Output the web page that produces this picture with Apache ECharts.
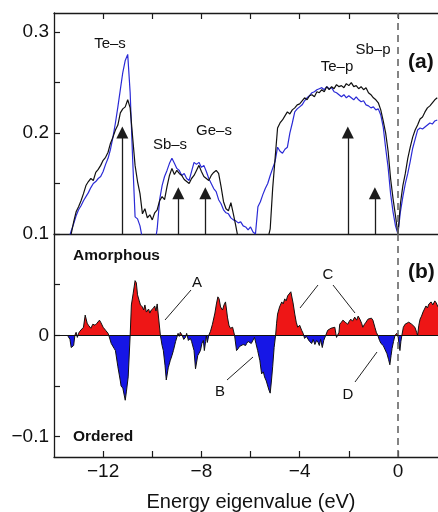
<!DOCTYPE html>
<html>
<head>
<meta charset="utf-8">
<script src="https://cdn.jsdelivr.net/npm/echarts@6/dist/echarts.min.js"></script>
<style>
  html, body { margin: 0; padding: 0; background: #fff; }
  #chart { width: 438px; height: 512px; }
</style>
</head>
<body>
<div id="chart"></div>
<script>
// energy grid of panel (a), eV
var energy = [
  -13.4,-13.3,-13.2,-13.1,-13.0,-12.9,-12.8,-12.7,-12.6,-12.5,
  -12.4,-12.3,-12.2,-12.1,-12.0,-11.9,-11.8,-11.7,-11.6,-11.5,
  -11.4,-11.3,-11.2,-11.1,-11.0,-10.9,-10.8,-10.7,-10.6,-10.5,
  -10.4,-10.3,-10.2,-10.1,-10.0,-9.9,-9.8,-9.7,-9.6,-9.5,
  -9.4,-9.3,-9.2,-9.1,-9.0,-8.9,-8.8,-8.7,-8.6,-8.5,
  -8.4,-8.3,-8.2,-8.1,-8.0,-7.9,-7.8,-7.7,-7.6,-7.5,
  -7.4,-7.3,-7.2,-7.1,-7.0,-6.9,-6.8,-6.7,-6.6,-6.5,
  -6.4,-6.3,-6.2,-6.1,-6.0,-5.9,-5.8,-5.7,-5.6,-5.5,
  -5.4,-5.3,-5.2,-5.1,-5.0,-4.9,-4.8,-4.7,-4.6,-4.5,
  -4.4,-4.3,-4.2,-4.1,-4.0,-3.9,-3.8,-3.7,-3.6,-3.5,
  -3.4,-3.3,-3.2,-3.1,-3.0,-2.9,-2.8,-2.7,-2.6,-2.5,
  -2.4,-2.3,-2.2,-2.1,-2.0,-1.9,-1.8,-1.7,-1.6,-1.5,
  -1.4,-1.3,-1.2,-1.1,-1.0,-0.9,-0.8,-0.7,-0.6,-0.5,
  -0.4,-0.3,-0.2,-0.1,0.0,0.1,0.2,0.3,0.4,0.5,
  0.6,0.7,0.8,0.9,1.0,1.1,1.2,1.3,1.4,1.5,
  1.6
];
// black curve
var dosBlack = [
  0.090,0.100,0.112,0.122,0.127,0.133,0.140,0.148,0.152,0.155,
  0.153,0.161,0.164,0.168,0.173,0.176,0.181,0.190,0.196,0.203,
  0.208,0.220,0.224,0.226,0.233,0.225,0.196,0.168,0.152,0.140,
  0.120,0.125,0.116,0.119,0.114,0.121,0.124,0.133,0.137,0.134,
  0.147,0.158,0.165,0.159,0.163,0.160,0.158,0.154,0.152,0.150,
  0.155,0.158,0.163,0.168,0.162,0.157,0.155,0.153,0.158,0.161,
  0.163,0.160,0.147,0.132,0.125,0.123,0.131,0.120,0.108,0.095,
  0.090,0.090,0.090,0.090,0.090,0.090,0.090,0.090,0.090,0.090,
  0.090,0.095,0.105,0.145,0.175,0.205,0.210,0.213,0.217,0.221,
  0.219,0.223,0.225,0.228,0.229,0.232,0.235,0.233,0.237,0.238,
  0.236,0.241,0.240,0.243,0.241,0.246,0.243,0.246,0.244,0.248,
  0.246,0.247,0.245,0.249,0.247,0.250,0.246,0.247,0.244,0.246,
  0.243,0.245,0.240,0.238,0.235,0.233,0.230,0.223,0.212,0.200,
  0.182,0.155,0.135,0.118,0.100,0.130,0.148,0.160,0.175,0.186,
  0.196,0.203,0.208,0.214,0.216,0.221,0.225,0.227,0.230,0.233,
  0.235
];
// blue curve
var dosBlue = [
  0.095,0.103,0.110,0.118,0.124,0.128,0.133,0.137,0.141,0.146,
  0.150,0.152,0.155,0.157,0.162,0.169,0.175,0.184,0.196,0.210,
  0.226,0.243,0.260,0.272,0.278,0.240,0.175,0.117,0.115,0.108,
  0.095,0.090,0.090,0.090,0.090,0.090,0.105,0.134,0.148,0.157,
  0.163,0.170,0.175,0.170,0.165,0.163,0.158,0.160,0.155,0.153,
  0.162,0.171,0.169,0.171,0.166,0.168,0.162,0.155,0.150,0.145,
  0.142,0.134,0.130,0.124,0.121,0.120,0.116,0.114,0.113,0.111,
  0.112,0.108,0.107,0.104,0.107,0.102,0.100,0.127,0.132,0.139,
  0.145,0.150,0.158,0.165,0.172,0.186,0.182,0.180,0.184,0.186,
  0.200,0.210,0.221,0.224,0.226,0.228,0.232,0.235,0.237,0.240,
  0.241,0.243,0.244,0.245,0.243,0.246,0.244,0.245,0.241,0.240,
  0.238,0.236,0.238,0.235,0.237,0.235,0.233,0.236,0.233,0.231,
  0.232,0.228,0.227,0.225,0.226,0.223,0.224,0.218,0.206,0.185,
  0.166,0.140,0.122,0.108,0.100,0.122,0.137,0.150,0.160,0.172,
  0.185,0.194,0.203,0.205,0.204,0.206,0.208,0.210,0.209,0.212,
  0.213
];

// arrows in panel (a)
var arrowEnergy = [-11.22, -8.94, -7.84, -2.04, -0.94];
var arrowHeight = [0.2005, 0.1405, 0.1405, 0.2005, 0.1405];

// panel (b): amorphous minus ordered
var diffEnergy = [
  -13.45,-13.35,-13.3,-13.2,-13.15,-13.1,-13.05,-13.0,-12.95,-12.9,
  -12.8,-12.73,-12.65,-12.6,-12.5,-12.42,-12.33,-12.25,-12.15,-12.1,
  -12.0,-11.9,-11.8,-11.77,-11.67,-11.55,-11.5,-11.4,-11.3,-11.27,
  -11.2,-11.1,-11.05,-10.98,-10.9,-10.85,-10.78,-10.7,-10.65,-10.6,
  -10.53,-10.48,-10.4,-10.35,-10.3,-10.24,-10.15,-10.1,-10.04,-9.95,
  -9.9,-9.85,-9.8,-9.67,-9.6,-9.55,-9.48,-9.43,-9.35,-9.27,
  -9.2,-9.14,-9.05,-9.0,-8.95,-8.9,-8.86,-8.78,-8.72,-8.65,
  -8.6,-8.53,-8.45,-8.4,-8.3,-8.24,-8.15,-8.04,-7.98,-7.92,
  -7.88,-7.83,-7.8,-7.76,-7.7,-7.63,-7.55,-7.45,-7.39,-7.33,
  -7.28,-7.22,-7.14,-7.08,-7.02,-6.98,-6.94,-6.88,-6.82,-6.73,
  -6.65,-6.57,-6.5,-6.45,-6.37,-6.3,-6.2,-6.16,-6.1,-6.04,
  -5.97,-5.9,-5.84,-5.78,-5.71,-5.62,-5.55,-5.48,-5.43,-5.36,
  -5.3,-5.25,-5.2,-5.15,-5.1,-5.04,-4.98,-4.94,-4.9,-4.82,
  -4.73,-4.67,-4.61,-4.55,-4.49,-4.42,-4.36,-4.33,-4.27,-4.2,
  -4.14,-4.08,-4.0,-3.92,-3.86,-3.8,-3.73,-3.67,-3.6,-3.51,
  -3.45,-3.38,-3.31,-3.25,-3.2,-3.15,-3.08,-3.02,-2.94,-2.86,
  -2.8,-2.73,-2.65,-2.57,-2.53,-2.5,-2.45,-2.4,-2.37,-2.3,
  -2.24,-2.15,-2.04,-1.98,-1.92,-1.85,-1.76,-1.68,-1.62,-1.55,
  -1.48,-1.43,-1.36,-1.3,-1.22,-1.14,-1.08,-1.02,-0.94,-0.88,
  -0.82,-0.75,-0.69,-0.6,-0.53,-0.45,-0.38,-0.33,-0.28,-0.24,
  -0.18,-0.12,-0.05,0.0,0.04,0.08,0.12,0.16,0.22,0.29,
  0.36,0.44,0.49,0.56,0.62,0.69,0.76,0.8,0.85,0.9,
  0.96,1.02,1.08,1.14,1.2,1.26,1.35,1.42,1.5,1.56,
  1.63
];
var diffValue = [
  0,-0.004,-0.012,-0.010,0,0.003,-0.002,0.002,0.004,0.005,
  0.008,0.020,0.012,0.010,0.007,0.011,0.010,0.012,0.015,0.013,
  0.008,0.005,0.002,0,-0.008,-0.013,-0.015,-0.031,-0.045,-0.050,
  -0.052,-0.064,-0.055,-0.041,0,0.030,0.041,0.054,0.052,0.040,
  0.034,0.030,0.028,0.025,0.030,0.023,0.026,0.022,0.025,0.027,
  0.029,0.024,0.031,0,-0.010,-0.015,-0.030,-0.044,-0.032,-0.025,
  -0.020,-0.015,-0.006,-0.002,0.002,-0.001,0.003,0,-0.004,-0.002,
  0.002,-0.005,-0.003,-0.006,-0.015,-0.033,-0.020,-0.015,-0.008,-0.005,
  -0.015,-0.006,0,-0.007,0,0.004,0.011,0.022,0.031,0.038,
  0.036,0.028,0.025,0.030,0.033,0.026,0.018,0.010,0.007,0.008,
  0,-0.015,-0.013,-0.011,-0.011,-0.009,-0.010,-0.008,-0.006,-0.005,
  -0.008,-0.007,-0.002,-0.008,-0.015,-0.025,-0.038,-0.036,-0.041,-0.045,
  -0.050,-0.054,-0.057,-0.045,-0.031,-0.012,0,0.012,0.021,0.028,
  0.033,0.031,0.036,0.034,0.039,0.038,0.043,0.044,0.032,0.021,
  0.013,0.008,0.010,0.005,0.002,-0.003,-0.001,0,-0.006,-0.008,
  -0.004,-0.009,-0.005,-0.007,-0.010,-0.004,-0.012,-0.005,0,0.005,
  0.004,0.007,0.006,0.008,0.002,-0.002,-0.003,0.003,0.011,0.013,
  0.015,0.013,0.011,0.014,0.016,0.014,0.018,0.015,0.019,0.016,
  0.012,0.008,0.011,0.013,0.016,0.016,0.017,0.015,0.008,0.003,
  0,-0.005,-0.008,-0.010,-0.011,-0.018,-0.024,-0.029,-0.020,-0.013,
  -0.006,0,0.002,0,-0.008,-0.015,-0.006,0,0.008,0.011,
  0.012,0.013,0.013,0.011,0.010,0.008,0.003,0,0.010,0.016,
  0.019,0.023,0.026,0.029,0.027,0.031,0.033,0.030,0.034,0.032,
  0.028
];

var xTicks = [-12, -10, -8, -6, -4, -2, 0];
var xLabels = [-12, -8, -4, 0];
var yTicksA = [0.1, 0.15, 0.2, 0.25, 0.3];
var yLabelsA = [0.1, 0.2, 0.3];
var yTicksB = [-0.1, -0.05, 0, 0.05];
var yLabelsB = [-0.1, 0];

var FONT = '"Liberation Sans", Arial, Helvetica, sans-serif';
var AXIS_COLOR = '#1a1a1a';

function fmt(v) {
  return (v < 0 ? '\u2212' : '') + Math.abs(v);
}

function pairs(xs, ys) {
  return xs.map(function (x, i) { return [x, ys[i]]; });
}

var arrowLines = arrowEnergy.map(function (e, i) {
  return [
    { coord: [e, 0.1], symbol: 'none' },
    { coord: [e, arrowHeight[i]], symbol: 'triangle', symbolSize: 12 }
  ];
});

var dashedZero = {
  xAxis: 0,
  lineStyle: { color: '#666', type: [7, 5], width: 1.6 }
};

var axisLineStyle = { show: true, onZero: false, lineStyle: { color: AXIS_COLOR, width: 1.3 } };
var labelStyle = { color: '#111', fontSize: 19, fontFamily: FONT };

function txt(x, y, s, font, align) {
  return {
    type: 'text', x: x, y: y, silent: true,
    style: {
      text: s, font: font, fill: '#111',
      align: align || 'center', verticalAlign: 'middle',
      textAlign: align || 'center', textVerticalAlign: 'middle'
    }
  };
}
function seg(x1, y1, x2, y2) {
  return {
    type: 'line', silent: true,
    shape: { x1: x1, y1: y1, x2: x2, y2: y2 },
    style: { stroke: '#222', lineWidth: 1 }
  };
}

var chart = echarts.init(document.getElementById('chart'), null, { renderer: 'canvas' });

chart.setOption({
  animation: false,
  backgroundColor: '#fff',
  grid: [
    { left: 54, top: 13, width: 384, height: 221, outerBoundsMode: 'none', containLabel: false },
    { left: 54, top: 234, width: 384, height: 223, outerBoundsMode: 'none', containLabel: false }
  ],
  xAxis: [
    { // panel a bottom
      type: 'value', gridIndex: 0, position: 'bottom', min: -14, max: 1.63,
      axisLine: axisLineStyle, axisTick: { show: false }, axisLabel: { show: false },
      splitLine: { show: false }
    },
    { // panel a top
      type: 'value', gridIndex: 0, position: 'top', min: -14, max: 1.63,
      axisLine: axisLineStyle,
      axisTick: { show: true, inside: true, length: 6, customValues: xTicks, lineStyle: { color: AXIS_COLOR, width: 1.2 } },
      axisLabel: { show: false }, splitLine: { show: false }
    },
    { // panel b bottom
      type: 'value', gridIndex: 1, position: 'bottom', min: -14, max: 1.63,
      axisLine: axisLineStyle,
      axisTick: { show: true, inside: true, length: 6, customValues: xTicks, lineStyle: { color: AXIS_COLOR, width: 1.2 } },
      axisLabel: Object.assign({ show: true, margin: 5, customValues: xLabels, formatter: fmt }, labelStyle),
      splitLine: { show: false }
    }
  ],
  yAxis: [
    {
      type: 'value', gridIndex: 0, min: 0.1, max: 0.319,
      axisLine: axisLineStyle,
      axisTick: { show: true, inside: true, length: 6, customValues: yTicksA, lineStyle: { color: AXIS_COLOR, width: 1.2 } },
      axisLabel: Object.assign({ show: true, margin: 5, customValues: yLabelsA, formatter: fmt }, labelStyle),
      splitLine: { show: false }
    },
    {
      type: 'value', gridIndex: 1, min: -0.12, max: 0.1,
      axisLine: axisLineStyle,
      axisTick: { show: true, inside: true, length: 6, customValues: yTicksB, lineStyle: { color: AXIS_COLOR, width: 1.2 } },
      axisLabel: Object.assign({ show: true, margin: 5, customValues: yLabelsB, formatter: fmt }, labelStyle),
      splitLine: { show: false }
    }
  ],
  visualMap: [{
    type: 'piecewise', show: false, seriesIndex: 2, dimension: 1,
    pieces: [
      { min: -1, max: 0, color: '#1616e6' },
      { min: 0, max: 1, color: '#ee1616' }
    ]
  }],
  series: [
    {
      name: 'blue', type: 'line', xAxisIndex: 0, yAxisIndex: 0,
      data: pairs(energy, dosBlue), showSymbol: false, silent: true,
      lineStyle: { color: '#2a2ad6', width: 1.2 }, z: 2
    },
    {
      name: 'black', type: 'line', xAxisIndex: 0, yAxisIndex: 0,
      data: pairs(energy, dosBlack), showSymbol: false, silent: true,
      lineStyle: { color: '#111', width: 1.2 }, z: 3,
      markLine: {
        silent: true, symbol: ['none', 'none'], label: { show: false },
        lineStyle: { color: '#1c1c1c', type: 'solid', width: 1.3 },
        data: [dashedZero].concat(arrowLines)
      }
    },
    {
      name: 'difference', type: 'line', xAxisIndex: 2, yAxisIndex: 1,
      data: pairs(diffEnergy, diffValue), showSymbol: false, silent: true,
      lineStyle: { color: '#111', width: 1 },
      areaStyle: { opacity: 1 },
      markLine: {
        silent: true, symbol: ['none', 'none'], label: { show: false },
        data: [
          dashedZero,
          { yAxis: 0, lineStyle: { color: '#111', type: 'solid', width: 1.1 } }
        ]
      }
    }
  ],
  graphic: [
    txt(110, 44, 'Te\u2013s', '15px ' + FONT),
    txt(170, 145, 'Sb\u2013s', '15px ' + FONT),
    txt(214, 131, 'Ge\u2013s', '15px ' + FONT),
    txt(337, 67, 'Te\u2013p', '15px ' + FONT),
    txt(373, 50, 'Sb\u2013p', '15px ' + FONT),
    txt(408, 62, '(a)', 'bold 21px ' + FONT, 'left'),
    txt(408, 272, '(b)', 'bold 21px ' + FONT, 'left'),
    txt(73, 256, 'Amorphous', 'bold 15.5px ' + FONT, 'left'),
    txt(73, 437, 'Ordered', 'bold 15.5px ' + FONT, 'left'),
    txt(197, 283, 'A', '15px ' + FONT),
    txt(220, 392, 'B', '15px ' + FONT),
    txt(328, 275, 'C', '15px ' + FONT),
    txt(348, 395, 'D', '15px ' + FONT),
    seg(191, 290, 165, 320),
    seg(227, 380, 253, 357),
    seg(318, 285, 300, 308),
    seg(333, 285, 355, 313),
    seg(355, 382, 377, 352),
    txt(251, 502, 'Energy eigenvalue (eV)', '20px ' + FONT)
  ]
});
</script>
</body>
</html>
